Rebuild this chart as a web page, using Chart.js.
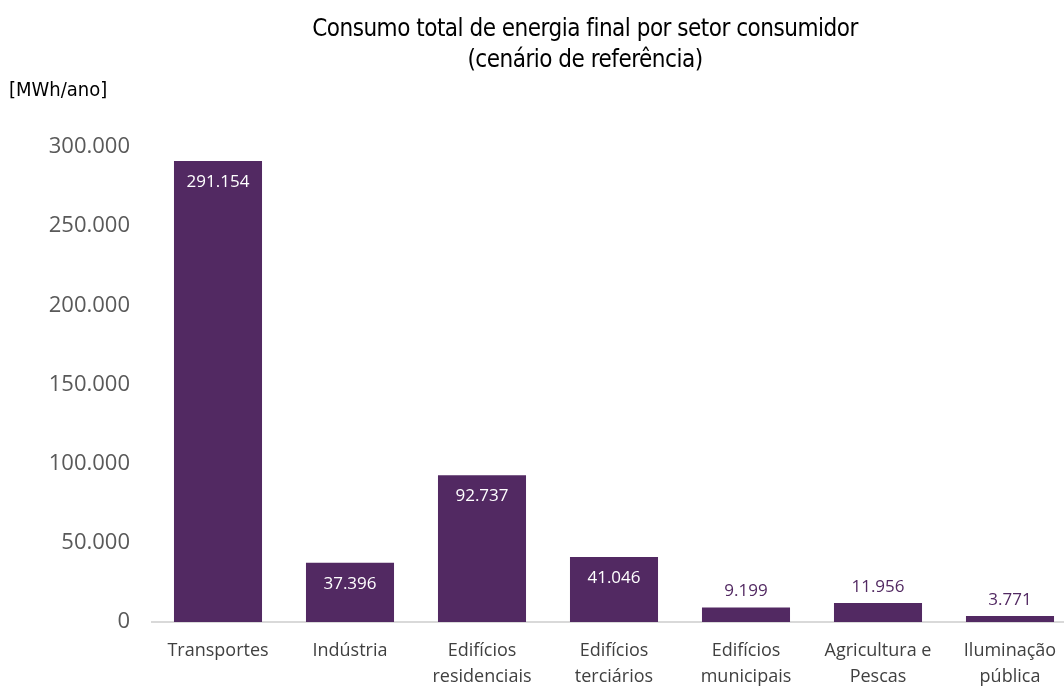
<!DOCTYPE html>
<html>
<head>
<meta charset="utf-8">
<script src="https://cdn.jsdelivr.net/npm/chart.js@4"></script>
<style>
html,body{margin:0;padding:0;background:#fff;overflow:hidden;width:1064px;height:686px;}
#wrap{position:relative;width:1076px;height:686px;}
#title{position:absolute;left:0;width:1170px;top:13px;text-align:center;font-family:"Liberation Sans Narrow","DejaVu Sans Condensed",sans-serif;font-size:24px;line-height:31px;color:#000;letter-spacing:-0.5px;white-space:nowrap;}
#unit{position:absolute;left:9px;top:77px;font-family:"Liberation Sans Narrow","DejaVu Sans Condensed",sans-serif;font-size:20px;color:#000;}
canvas{position:absolute;left:0;top:0;}
</style>
</head>
<body>
<div id="wrap">
<canvas id="c" width="1076" height="686"></canvas>
<div id="title">Consumo total de energia final por setor consumidor<br>(cenário de referência)</div>
<div id="unit">[MWh/ano]</div>
</div>
<script>
const categories = [["Transportes"], ["Indústria"], ["Edifícios","residenciais"], ["Edifícios","terciários"], ["Edifícios","municipais"], ["Agricultura e","Pescas"], ["Iluminação","pública"]];
const values = [291154, 37396, 92737, 41046, 9199, 11956, 3771];
const yTicks = [0, 50000, 100000, 150000, 200000, 250000, 300000];

const barColor = "#522962";
function fmt(v){ return String(v).replace(/\B(?=(\d{3})+(?!\d))/g, "."); }

const labelPlugin = {
  id: "valueLabels",
  afterDatasetsDraw(chart){
    const ctx = chart.ctx;
    const meta = chart.getDatasetMeta(0);
    ctx.save();
    ctx.font = "17px 'Open Sans', sans-serif";
    ctx.textAlign = "center";
    ctx.textBaseline = "middle";
    meta.data.forEach((bar, i) => {
      const v = values[i];
      const h = bar.base - bar.y;
      if (h > 40) {
        ctx.fillStyle = "#ffffff";
        ctx.fillText(fmt(v), bar.x, bar.y + 21);
      } else {
        ctx.fillStyle = barColor;
        ctx.fillText(fmt(v), bar.x, bar.y - 16);
      }
    });
    ctx.restore();
  }
};

new Chart(document.getElementById("c"), {
  type: "bar",
  data: {
    labels: categories,
    datasets: [{
      data: values,
      backgroundColor: barColor,
      barPercentage: 0.667,
      categoryPercentage: 1.0
    }]
  },
  options: {
    responsive: false,
    animation: false,
    layout: { padding: { top: 147, right: 0, bottom: 0, left: 0 } },
    plugins: { legend: { display: false }, tooltip: { enabled: false }, title: { display: false } },
    scales: {
      x: {
        grid: { display: false },
        border: { display: true, color: "#d9d9d9", width: 2 },
        ticks: { color: "#404040", font: { family: "'Open Sans', sans-serif", size: 18, lineHeight: 1.45 }, padding: 8, maxRotation: 0, autoSkip: false },
        afterFit(s){ s.height = 64; }
      },
      y: {
        min: 0, max: 300000,
        afterBuildTicks(s){ s.ticks = yTicks.map(v => ({ value: v })); },
        grid: { display: false },
        border: { display: false },
        ticks: { color: "#595959", font: { family: "'Open Sans', sans-serif", size: 22 }, padding: 14, callback: v => fmt(v) },
        afterFit(s){ s.width = 152; }
      }
    }
  },
  plugins: [labelPlugin]
});
</script>
</body>
</html>
